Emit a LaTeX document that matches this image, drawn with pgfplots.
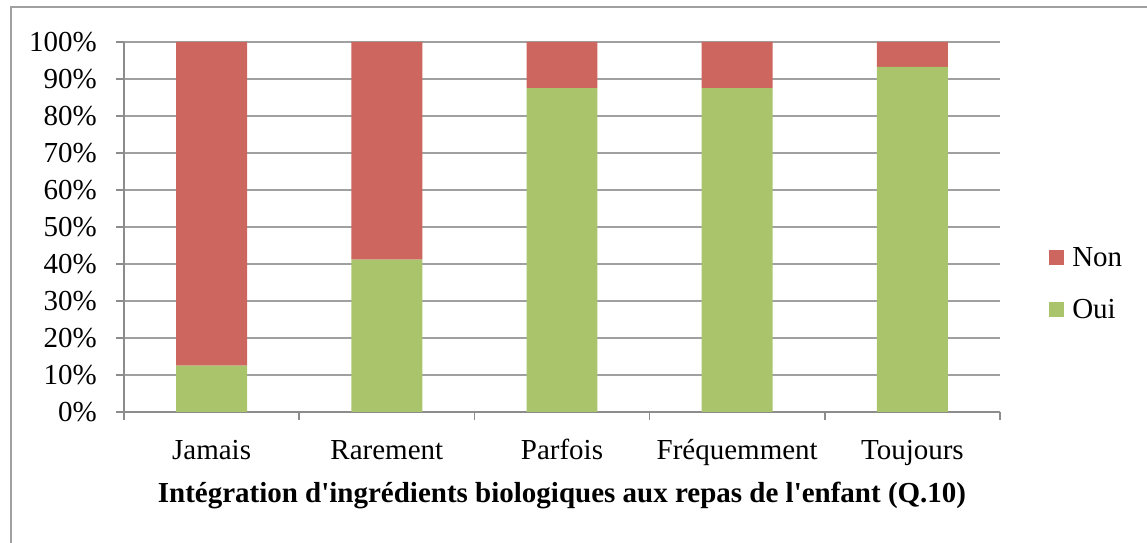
\documentclass[border=0pt]{standalone}
\usepackage{fontspec}
\setmainfont{Liberation Serif}
\usepackage{pgfplots}
\pgfplotsset{compat=1.18}
\definecolor{nonred}{RGB}{205,102,94}
\definecolor{ouigreen}{RGB}{170,196,108}
\definecolor{gridgray}{RGB}{160,160,160}
\definecolor{axisgray}{RGB}{140,140,140}
\begin{document}
\begin{tikzpicture}
\useasboundingbox (0,0) rectangle (1147bp,543bp);
\draw[gridgray, line width=1.2bp] (11bp,-5bp) -- (11bp,536bp) -- (1152bp,536bp);
\begin{axis}[
  at={(124bp,131bp)}, anchor=south west,
  scale only axis, width=876bp, height=370bp,
  ybar stacked, bar width=0.405,
  xmin=-0.5, xmax=4.5, ymin=0, ymax=100,
  enlargelimits=false,
  axis lines*=left,
  axis line style={axisgray, line width=1.5bp},
  xtick={0,...,4},
  xticklabels={Jamais,Rarement,Parfois,Fréquemment,Toujours},
  minor xtick={-0.5,0.5,...,4.5},
  major x tick style={draw=none},
  ytick={0,10,...,100},
  yticklabels={0\%,10\%,20\%,30\%,40\%,50\%,60\%,70\%,80\%,90\%,100\%},
  tick align=outside,
  major tick length=8bp, minor tick length=8bp,
  tick style={axisgray, line width=1.5bp},
  ymajorgrids=true,
  grid style={gridgray, line width=1.5bp},
  ticklabel style={font=\fontsize{29bp}{34bp}\selectfont},
  yticklabel style={anchor=east, inner sep=0pt, xshift=-19bp},
  xticklabel style={anchor=base, inner sep=0pt, yshift=-39bp},
  xlabel={\textbf{Intégration d\textquotesingle ingrédients biologiques aux repas de l\textquotesingle enfant (Q.10)}},
  xlabel style={font=\fontsize{29bp}{34bp}\selectfont, at={(0.5,-0.2459)}, anchor=base, inner sep=0pt},
  legend style={at={(1.056,0.347)}, anchor=west, draw=none, fill=none,
    font=\fontsize{29bp}{34bp}\selectfont, row sep=32bp, inner sep=0pt,
    nodes={inner sep=0pt}},
  legend cell align=left,
  reverse legend,
  legend image code/.code={\fill[#1] (0bp,-7.5bp) rectangle (15bp,7.5bp); \path (23bp,0bp);},
]
\addplot[fill=ouigreen, draw=none] coordinates {(0,12.5) (1,41.2) (2,87.5) (3,87.5) (4,93.3)};
\addplot[fill=nonred, draw=none] coordinates {(0,87.5) (1,58.8) (2,12.5) (3,12.5) (4,6.7)};
\legend{Oui,Non}
\end{axis}
\end{tikzpicture}
\end{document}
